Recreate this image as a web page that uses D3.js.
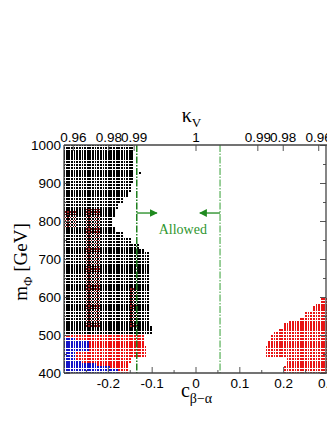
<!DOCTYPE html>
<html>
<head>
<meta charset="utf-8">
<title>kappa_V scan</title>
<style>
body { margin: 0; background: #fff; }
svg { font-family: "Liberation Serif", "DejaVu Serif", serif; }
.axis path.domain { display: none; }
.axis line { stroke: #555; }
.axis text { font-size: 13.5px; fill: #000; }
.frame { fill: none; stroke: #444; stroke-width: 1.3; }
.pt { shape-rendering: crispEdges; }
</style>
</head>
<body>
<div id="vis"></div>
<script src="https://cdn.jsdelivr.net/npm/d3@7"></script>
<script>

// scan grid resolution
var cStep = 0.006, mStep = 7.5;

// tick labels
var massTicks = [400, 500, 600, 700, 800, 900, 1000];
var massMinor = [450, 550, 650, 750, 850, 950];
var cTicks = [-0.2, -0.1, 0, 0.1, 0.2, 0.3];
var cMinor = [-0.25, -0.15, -0.05, 0.05, 0.15, 0.25];
var kappaTicks = [0.96, 0.98, 0.99, 1];

// excluded regions: [mass from, c edge]
var blackRange = [505, 1000];
var blackEdge = [[505, -0.097], [522, -0.107], [716, -0.115], [730, -0.132], [743, -0.15],
                 [758, -0.168], [772, -0.184], [790, -0.188], [812, -0.184], [828, -0.177],
                 [846, -0.166], [862, -0.156], [878, -0.146], [900, -0.143], [925, -0.139]];
var blackStray = [[-0.127, 927]];

var redLeftRange = [400, 505];
var redLeftEdge = [[400, -0.154], [425, -0.145], [442, -0.11], [470, -0.12]];

var redRightRange = [400, 598];
var redRightEdge = [[400, 0.203], [420, 0.208], [443, 0.158], [460, 0.16], [475, 0.165],
                    [490, 0.17], [500, 0.178], [510, 0.187], [520, 0.2], [530, 0.215],
                    [540, 0.235], [550, 0.25], [563, 0.265], [575, 0.275], [585, 0.288]];

var blueUpperRange = [445, 492];
var blueUpperEdge = [[445, -0.272], [458, -0.245], [484, -0.272]];
var blueLowerRange = [400, 438];
var blueLowerEdge = [[400, -0.18], [408, -0.198], [416, -0.225], [426, -0.26], [433, -0.272]];

// red points partly hidden below the black ones: [c from, c to, m from, m to]
var redUnder = [[-0.252, -0.218, 513, 830], [-0.3, -0.275, 780, 820], [-0.155, -0.135, 513, 620]];

// allowed band
var allowedBounds = [-0.134, 0.056];
var arrowMass = 821;

var width = 327, height = 423;
var margin = {left: 64, top: 145, right: 0, bottom: 50};

var x = d3.scaleLinear().domain([-0.3, 0.3]).range([margin.left, width - margin.right]);
var y = d3.scaleLinear().domain([400, 1000]).range([height - margin.bottom, margin.top]);

var svg = d3.select("#vis").append("svg")
    .attr("width", width)
    .attr("height", height);

svg.append("clipPath").attr("id", "plotclip")
  .append("rect")
    .attr("x", x(-0.3)).attr("y", y(1000))
    .attr("width", x(0.3) - x(-0.3)).attr("height", y(400) - y(1000));

function edgeAt(table, m) {
  var e = table[0][1];
  table.forEach(function(t) { if (m >= t[0] - 1e-9) e = t[1]; });
  return e;
}

// build the scan points of each region
var cols = d3.range(0, 101).map(function(i) { return -0.3 + i * cStep; });
var rows = d3.range(0, 81).map(function(j) { return 400 + j * mStep; });

function region(range, table, side) {
  var pts = [];
  rows.forEach(function(m) {
    if (m < range[0] - 1e-9 || m > range[1] + 1e-9) return;
    var e = edgeAt(table, m);
    cols.forEach(function(c) {
      if (side === "left" ? c <= e + 1e-9 : c >= e - 1e-9) pts.push([c, m]);
    });
  });
  return pts;
}

var under = [];
redUnder.forEach(function(b) {
  rows.forEach(function(m) {
    if (m < b[2] || m > b[3]) return;
    cols.forEach(function(c) {
      if (c >= b[0] && c <= b[1]) under.push([c + cStep / 2, m + mStep / 2]);
    });
  });
});

var layers = [
  {pts: region(redLeftRange, redLeftEdge, "left"), color: "#ee1111", w: 1.8, h: 2.2},
  {pts: region(redRightRange, redRightEdge, "right"), color: "#e81414", w: 1.8, h: 2.2},
  {pts: region(blackRange, blackEdge, "left").concat(blackStray), color: "#000", w: 1.8, h: 2.2},
  {pts: under, color: "#901515", w: 1.3, h: 1.2},
  {pts: region(blueUpperRange, blueUpperEdge, "left"), color: "#1212c8", w: 1.8, h: 2.2},
  {pts: region(blueLowerRange, blueLowerEdge, "left"), color: "#1212c8", w: 1.8, h: 2.2}
];

var gPts = svg.append("g").attr("clip-path", "url(#plotclip)");
layers.forEach(function(l) {
  gPts.append("g").selectAll("rect")
      .data(l.pts)
      .enter().append("rect")
      .attr("class", "pt")
      .attr("x", function(d) { return x(d[0]) - l.w / 2; })
      .attr("y", function(d) { return y(d[1]) - l.h / 2; })
      .attr("width", l.w)
      .attr("height", l.h)
      .attr("fill", l.color);
});

// allowed band lines
svg.append("line")
    .attr("x1", x(allowedBounds[0])).attr("x2", x(allowedBounds[0]))
    .attr("y1", y(1000)).attr("y2", y(400))
    .attr("stroke", "#1f7f1f").attr("stroke-width", 1.5)
    .attr("stroke-dasharray", "7,1.5,1.5,1.5");
svg.append("line")
    .attr("x1", x(allowedBounds[1])).attr("x2", x(allowedBounds[1]))
    .attr("y1", y(1000)).attr("y2", y(400))
    .attr("stroke", "#78bf78").attr("stroke-width", 1.5)
    .attr("stroke-dasharray", "7,1.5,1.5,1.5");

svg.append("defs").append("marker")
    .attr("id", "head")
    .attr("viewBox", "0 0 10 10")
    .attr("refX", 9).attr("refY", 5)
    .attr("markerWidth", 6).attr("markerHeight", 6)
    .attr("orient", "auto")
  .append("path")
    .attr("d", "M0,0L10,5L0,10Z")
    .attr("fill", "#1f8a1f");

svg.append("line")
    .attr("x1", x(allowedBounds[0])).attr("x2", x(allowedBounds[0] + 0.046))
    .attr("y1", y(arrowMass)).attr("y2", y(arrowMass))
    .attr("stroke", "#1f8a1f").attr("stroke-width", 1.3)
    .attr("marker-end", "url(#head)");
svg.append("line")
    .attr("x1", x(allowedBounds[1])).attr("x2", x(allowedBounds[1] - 0.046))
    .attr("y1", y(arrowMass)).attr("y2", y(arrowMass))
    .attr("stroke", "#1f8a1f").attr("stroke-width", 1.3)
    .attr("marker-end", "url(#head)");

svg.append("text")
    .attr("x", x(-0.029)).attr("y", y(arrowMass) + 21)
    .attr("text-anchor", "middle")
    .attr("font-size", "14px")
    .attr("fill", "#2f962f")
    .text("Allowed");

// axes
svg.append("g").attr("class", "axis")
    .attr("transform", "translate(0," + y(400) + ")")
    .call(d3.axisBottom(x).tickValues(cTicks).tickSize(-6).tickPadding(5)
      .tickFormat(function(d) { return d === 0 ? "0" : d3.format(".1f")(d).replace("−", "-"); }));
svg.append("g").attr("class", "axis")
    .attr("transform", "translate(0," + y(400) + ")")
    .call(d3.axisBottom(x).tickValues(cMinor).tickSize(-3).tickFormat(""));

var kPos = [];
kappaTicks.forEach(function(k) {
  var c = Math.sqrt(Math.max(0, 1 - k * k));
  if (c === 0) kPos.push(0); else { kPos.push(-c); kPos.push(c); }
});
svg.append("g").attr("class", "axis")
    .attr("transform", "translate(0," + y(1000) + ")")
    .call(d3.axisTop(x).tickValues(kPos).tickSize(-6).tickPadding(3)
      .tickFormat(function(c) {
        var k = Math.sqrt(1 - c * c);
        return Math.abs(k - 1) < 1e-9 ? "1" : k.toFixed(2);
      }));

svg.append("g").attr("class", "axis")
    .attr("transform", "translate(" + x(-0.3) + ",0)")
    .call(d3.axisLeft(y).tickValues(massTicks).tickSize(-6).tickPadding(3).tickFormat(d3.format("d")));
svg.append("g").attr("class", "axis")
    .attr("transform", "translate(" + x(-0.3) + ",0)")
    .call(d3.axisLeft(y).tickValues(massMinor).tickSize(-3).tickFormat(""));
svg.append("g").attr("class", "axis")
    .attr("transform", "translate(" + (x(0.3) - 1) + ",0)")
    .call(d3.axisRight(y).tickValues(massTicks).tickSize(-6).tickFormat(""));
svg.append("g").attr("class", "axis")
    .attr("transform", "translate(" + (x(0.3) - 1) + ",0)")
    .call(d3.axisRight(y).tickValues(massMinor).tickSize(-3).tickFormat(""));

// frame
svg.append("line").attr("class", "frame")
    .attr("x1", x(-0.3)).attr("x2", x(0.3)).attr("y1", y(1000)).attr("y2", y(1000))
    .attr("stroke", "#000");
svg.append("line").attr("class", "frame")
    .attr("x1", x(-0.3)).attr("x2", x(0.3)).attr("y1", y(400)).attr("y2", y(400));
svg.append("line").attr("class", "frame")
    .attr("x1", x(-0.3)).attr("x2", x(-0.3)).attr("y1", y(1000)).attr("y2", y(400));
svg.append("line").attr("class", "frame")
    .attr("x1", x(0.3) - 1).attr("x2", x(0.3) - 1).attr("y1", y(1000)).attr("y2", y(400))
    .attr("stroke", "#888");

// axis titles
var kt = svg.append("text")
    .attr("x", x(0) - 4).attr("y", y(1000) - 23)
    .attr("text-anchor", "middle")
    .attr("font-size", "20px");
kt.append("tspan").text("κ");
kt.append("tspan").attr("font-size", "13px").attr("dy", 5).text("V");

var ct = svg.append("text")
    .attr("x", x(0) + 1).attr("y", y(400) + 24)
    .attr("text-anchor", "middle")
    .attr("font-size", "20px");
ct.append("tspan").text("c");
ct.append("tspan").attr("font-size", "14px").attr("dy", 6).text("β−α");

var mt = svg.append("text")
    .attr("transform", "translate(27," + 262 + ") rotate(-90)")
    .attr("text-anchor", "middle")
    .attr("font-size", "19px");
mt.append("tspan").text("m");
mt.append("tspan").attr("font-size", "13px").attr("dy", 5).text("Φ");
mt.append("tspan").attr("dy", -5).text(" [GeV]");

</script>
</body>
</html>
